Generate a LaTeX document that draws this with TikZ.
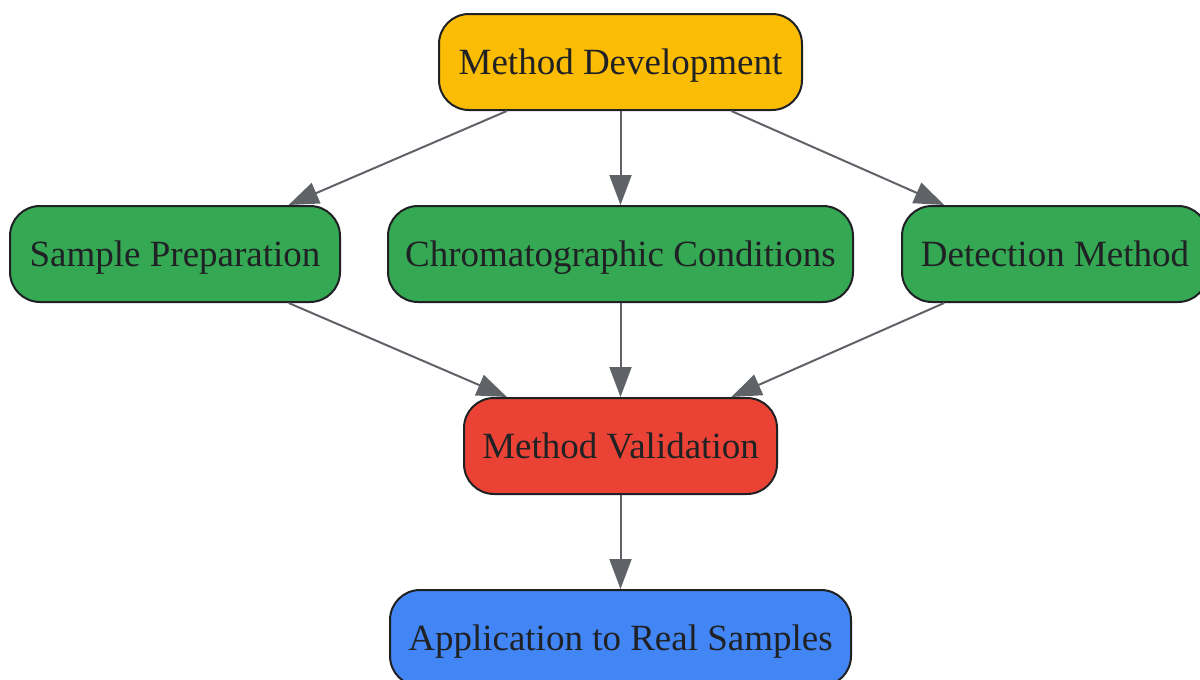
\documentclass[tikz,border=0pt]{standalone}
\usepackage{fontspec}
\setmainfont{Liberation Serif}
\usetikzlibrary{arrows.meta}
\definecolor{devorange}{HTML}{FBBC04}
\definecolor{stepgreen}{HTML}{34A853}
\definecolor{valred}{HTML}{EA4335}
\definecolor{appblue}{HTML}{4285F4}
\definecolor{edgegray}{HTML}{5F6368}
\definecolor{inkdark}{HTML}{202124}
\tikzset{
  stagebox/.style={draw=inkdark, line width=2pt, rounded corners=30pt, minimum height=96pt,
    inner xsep=0pt, text height=24pt, text depth=0pt, text=inkdark, font=\fontsize{37}{44}\selectfont},
  flow/.style={draw=edgegray, line width=2pt, -{Triangle[length=30pt,width=22pt]}}
}
\begin{document}
\begin{tikzpicture}[x=1pt, y=-1pt]
\useasboundingbox (0,0) rectangle (1200,680);
\clip (0,0) rectangle (1200,680);
\node[stagebox, fill=devorange, minimum width=363pt] (dev) at (620.5,62) {Method Development}; % top
\node[stagebox, fill=stepgreen, minimum width=330pt] (prep) at (175,254) {Sample Preparation}; % left
\node[stagebox, fill=stepgreen, minimum width=465pt] (chrom) at (620.5,254) {Chromatographic Conditions}; % middle
\node[stagebox, fill=stepgreen, minimum width=306pt] (detect) at (1055,254) {Detection Method}; % right, cut off
\node[stagebox, fill=valred, minimum width=313pt] (valid) at (620.5,446) {Method Validation}; % validation
\node[stagebox, fill=appblue, minimum width=461pt] (apply) at (620.5,638) {Application to Real Samples}; % bottom, cut off
\draw[flow] (dev) -- (prep);
\draw[flow] (dev) -- (chrom);
\draw[flow] (dev) -- (detect);
\draw[flow] (prep) -- (valid);
\draw[flow] (chrom) -- (valid);
\draw[flow] (detect) -- (valid);
\draw[flow] (valid) -- (apply);
\end{tikzpicture}
\end{document}
